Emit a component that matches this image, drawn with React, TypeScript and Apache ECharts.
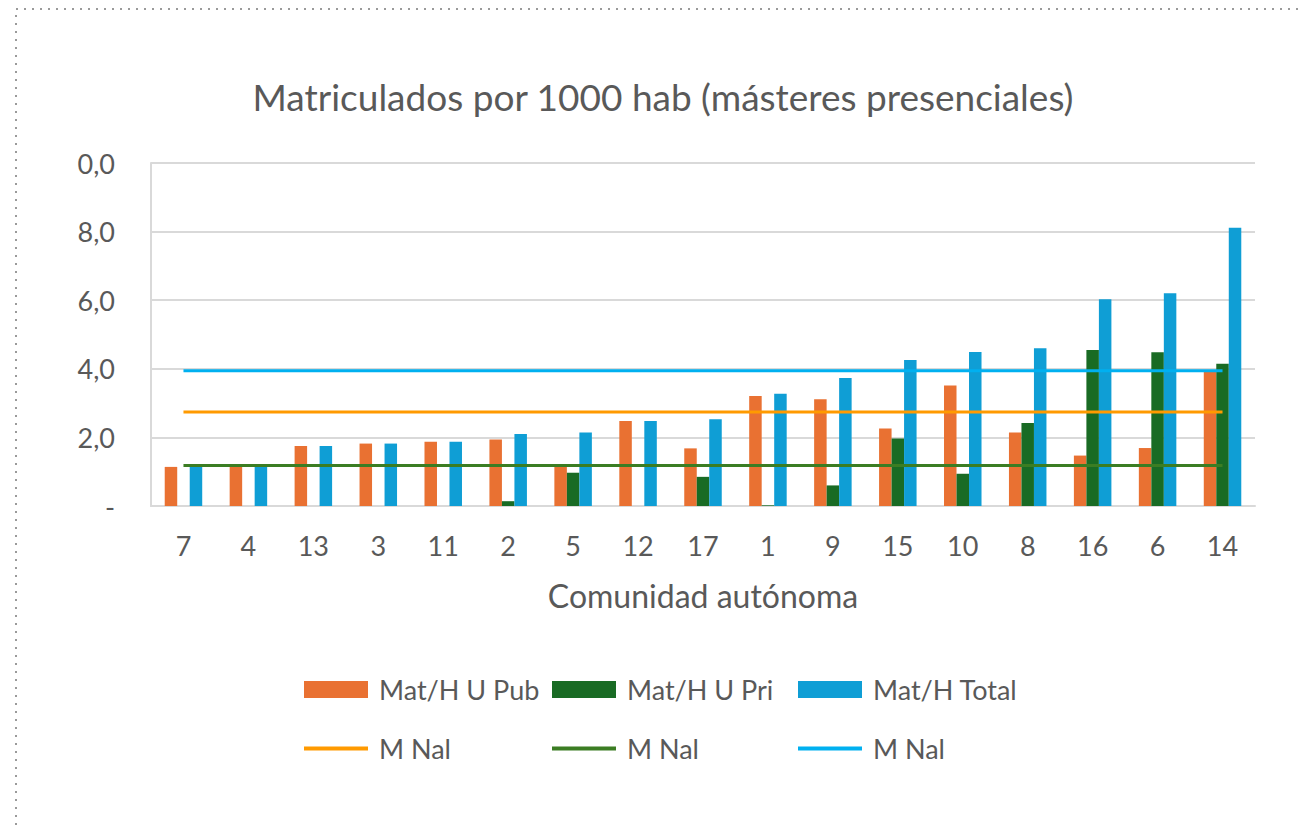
import React, { useEffect, useRef } from "react";
import * as echarts from "echarts";

const categories = ["7", "4", "13", "3", "11", "2", "5", "12", "17", "1", "9", "15", "10", "8", "16", "6", "14"];
const pubValues = [1.14, 1.15, 1.75, 1.82, 1.87, 1.94, 1.17, 2.48, 1.68, 3.21, 3.11, 2.26, 3.51, 2.14, 1.47, 1.69, 3.92];
const priValues = [0, 0, 0, 0, 0, 0.14, 0.97, 0, 0.85, 0.02, 0.6, 1.97, 0.94, 2.42, 4.55, 4.48, 4.15];
const totalValues = [1.14, 1.15, 1.75, 1.82, 1.87, 2.1, 2.14, 2.48, 2.53, 3.27, 3.73, 4.26, 4.49, 4.6, 6.03, 6.2, 8.11];
const meanPub = 2.74;
const meanPri = 1.18;
const meanTotal = 3.94;
const yTicks = [0, 2, 4, 6, 8, 10];
const yTickLabels = ["-", "2,0", "4,0", "6,0", "8,0", "0,0"];

const title = "Matriculados por 1000 hab (másteres presenciales)";
const xName = "Comunidad autónoma";
const barNames = ["Mat/H U Pub", "Mat/H U Pri", "Mat/H Total"];
const lineLabel = "M Nal";

const FONT = "Lato";
const TXT = "#595959";

export default function App() {
  const ref = useRef<HTMLDivElement>(null);
  useEffect(() => {
    if (!ref.current) return;
    const chart = echarts.init(ref.current, null, { renderer: "svg" });
    const mean = (v: number) => categories.map(() => v);
    const legendBase = {
      itemWidth: 64,
      itemHeight: 17,
      icon: "rect",
      padding: 0,
      textStyle: { fontFamily: FONT, fontSize: 27, color: TXT, padding: [0, 0, 0, 6] },
      selectedMode: false,
    };
    const lineLegend = { ...legendBase, itemHeight: 4 };
    chart.setOption({
      animation: false,
      backgroundColor: "#fff",
      title: {
        text: title,
        left: 658,
        top: 73,
        textAlign: "center",
        textStyle: { fontFamily: FONT, fontSize: 37, fontWeight: "normal", color: TXT },
      },
      graphic: [
        {
          type: "polyline",
          shape: { points: [[16, 825], [16, 9], [1302, 9]] },
          style: { stroke: "#9a9a9a", lineWidth: 2, lineDash: [2, 6], fill: null },
          silent: true,
        },
      ],
      grid: { left: 151, right: 47, top: 163, bottom: 319, containLabel: false },
      xAxis: {
        type: "category",
        data: categories,
        name: xName,
        nameLocation: "middle",
        nameGap: 73,
        nameTextStyle: { fontFamily: FONT, fontSize: 32, color: TXT },
        axisLine: { lineStyle: { color: "#d9d9d9", width: 2 } },
        axisTick: { show: false },
        axisLabel: { fontFamily: FONT, fontSize: 27, color: TXT, margin: 26 },
      },
      yAxis: {
        type: "value",
        min: 0,
        max: 10,
        interval: 2,
        axisLine: { show: true, lineStyle: { color: "#d9d9d9", width: 2 } },
        axisTick: { show: false },
        splitLine: { lineStyle: { color: "#d9d9d9", width: 2 } },
        axisLabel: {
          fontFamily: FONT,
          fontSize: 27,
          color: TXT,
          margin: 36,
          formatter: (v: number) => {
            const i = yTicks.indexOf(v);
            return i >= 0 ? yTickLabels[i] : "";
          },
        },
      },
      legend: [
        { ...legendBase, data: [barNames[0]], left: 304, top: 676 },
        { ...legendBase, data: [barNames[1]], left: 552, top: 676 },
        { ...legendBase, data: [barNames[2]], left: 798, top: 676 },
        { ...lineLegend, data: ["mean-pub"], left: 304, top: 735, formatter: () => lineLabel },
        { ...lineLegend, data: ["mean-pri"], left: 552, top: 735, formatter: () => lineLabel },
        { ...lineLegend, data: ["mean-total"], left: 798, top: 735, formatter: () => lineLabel },
      ],
      series: [
        {
          name: barNames[0],
          type: "bar",
          data: pubValues,
          barWidth: 12.5,
          barGap: "0%",
          itemStyle: { color: "#e97132" },
        },
        {
          name: barNames[1],
          type: "bar",
          data: priValues,
          barWidth: 12.5,
          barGap: "0%",
          itemStyle: { color: "#196b24" },
        },
        {
          name: barNames[2],
          type: "bar",
          data: totalValues,
          barWidth: 12.5,
          barGap: "0%",
          itemStyle: { color: "#0f9ed5" },
        },
        {
          name: "mean-pub",
          type: "line",
          data: mean(meanPub),
          symbol: "none",
          lineStyle: { color: "#ff9a00", width: 3 },
          itemStyle: { color: "#ff9a00" },
        },
        {
          name: "mean-pri",
          type: "line",
          data: mean(meanPri),
          symbol: "none",
          lineStyle: { color: "#3b7d23", width: 3 },
          itemStyle: { color: "#3b7d23" },
        },
        {
          name: "mean-total",
          type: "line",
          data: mean(meanTotal),
          symbol: "none",
          lineStyle: { color: "#00b0f0", width: 3 },
          itemStyle: { color: "#00b0f0" },
        },
      ],
    });
    return () => chart.dispose();
  }, []);
  return (
    <div
      ref={ref}
      style={{ position: "fixed", left: 0, top: 0, width: 1302, height: 825 }}
    />
  );
}
